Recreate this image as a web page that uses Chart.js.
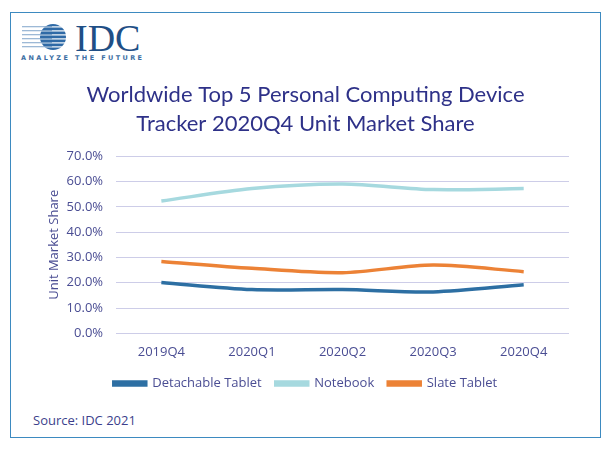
<!DOCTYPE html>
<html>
<head>
<meta charset="utf-8">
<script src="https://cdn.jsdelivr.net/npm/chart.js@4/dist/chart.umd.min.js"></script>
<style>
  html, body { margin: 0; padding: 0; background: #fff; }
  body { width: 613px; height: 451px; position: relative; overflow: hidden; font-family: "Open Sans", sans-serif; }
  #frame { position: absolute; left: 10px; top: 12px; width: 589px; height: 424px; border: 1.5px solid #3d8ac0; }
  #logo { position: absolute; left: 20px; top: 23px; }
  #logo .idc { position: absolute; left: 55px; top: -7px; font-family: "Liberation Serif", serif; font-size: 38px; color: #1f4f86; }
  #logo .tag { position: absolute; left: 1px; top: 31px; font-family: "DejaVu Sans", sans-serif; font-size: 6.5px; color: #3c6ea3; letter-spacing: 2.4px; white-space: nowrap; font-weight: bold; }
  #source { position: absolute; left: 33px; top: 411px; font-size: 13px; color: #3c3f8c; }
  #chart { position: absolute; left: 0; top: 0; }
</style>
</head>
<body>
<div id="frame"></div>
<div id="logo">
  <svg width="55" height="30" style="position:absolute;left:0;top:0">
    <defs><clipPath id="g"><circle cx="33" cy="14" r="13"/></clipPath></defs>
    <g fill="#9db9d6">
      <rect x="2" y="3" width="30" height="1.3"/>
      <rect x="2" y="7" width="30" height="1.3"/>
      <rect x="2" y="11" width="30" height="1.3"/>
      <rect x="2" y="15" width="30" height="1.3"/>
      <rect x="2" y="19" width="30" height="1.3"/>
      <rect x="2" y="23" width="30" height="1.3"/>
    </g>
    <g fill="#2f6aa6" clip-path="url(#g)">
      <rect x="18" y="0.5" width="32" height="2.8"/>
      <rect x="18" y="4.5" width="32" height="2.8"/>
      <rect x="18" y="8.5" width="32" height="2.8"/>
      <rect x="18" y="12.5" width="32" height="2.8"/>
      <rect x="18" y="16.5" width="32" height="2.8"/>
      <rect x="18" y="20.5" width="32" height="2.8"/>
      <rect x="18" y="24.5" width="32" height="2.8"/>
    </g>
  </svg>
  <span class="idc">IDC</span>
  <span class="tag">ANALYZE THE FUTURE</span>
</div>
<div id="source">Source: IDC 2021</div>
<canvas id="chart" width="613" height="451"></canvas>

<script>
// Chart data
const quarters = ['2019Q4', '2020Q1', '2020Q2', '2020Q3', '2020Q4'];
const detachableTablet = [20.1, 17.3, 17.3, 16.4, 19.2];
const notebook = [52.3, 57.2, 59.0, 56.8, 57.2];
const slateTablet = [28.4, 25.7, 24.0, 27.0, 24.4];
const yTicks = [0, 10, 20, 30, 40, 50, 60, 70];

const textColor = '#4a4d93';
const titleColor = '#2e3188';

// Build the chart once the page is loaded
document.addEventListener('DOMContentLoaded', function() {
    const ctx = document.getElementById('chart').getContext('2d');

    const chartData = {
        labels: quarters,
        datasets: [
            { label: 'Detachable Tablet', data: detachableTablet, borderColor: '#2d6fa3', backgroundColor: '#2d6fa3' },
            { label: 'Notebook', data: notebook, borderColor: '#a6d9df', backgroundColor: '#a6d9df' },
            { label: 'Slate Tablet', data: slateTablet, borderColor: '#ec8236', backgroundColor: '#ec8236' }
        ]
    };

    const config = {
        type: 'line',
        data: chartData,
        options: {
            responsive: false,
            animation: false,
            devicePixelRatio: 1,
            layout: { padding: { left: 42, right: 44, top: 81, bottom: 51 } },
            elements: {
                line: { borderWidth: 3.5, tension: 0.3, fill: false, borderCapStyle: 'butt' },
                point: { radius: 0, hoverRadius: 0 }
            },
            plugins: {
                title: {
                    display: true,
                    text: ['Worldwide Top 5 Personal Computing Device', 'Tracker 2020Q4 Unit Market Share'],
                    color: titleColor,
                    font: { family: 'Lato', size: 22, weight: 'normal', lineHeight: 1.3 },
                    padding: { top: 0, bottom: 18 }
                },
                legend: {
                    position: 'bottom',
                    labels: {
                        color: textColor,
                        font: { family: 'Open Sans', size: 13 },
                        boxWidth: 32,
                        boxHeight: 3,
                        padding: 14
                    }
                },
                tooltip: { enabled: false }
            },
            scales: {
                x: {
                    offset: true,
                    grid: { display: false },
                    border: { display: false },
                    ticks: { color: textColor, font: { family: 'Open Sans', size: 13 }, padding: 3 }
                },
                y: {
                    min: yTicks[0],
                    max: yTicks[yTicks.length - 1],
                    afterBuildTicks: function(axis) {
                        axis.ticks = yTicks.map(v => ({ value: v }));
                    },
                    grid: { color: '#cdcde8', lineWidth: 1, drawTicks: false },
                    border: { display: false },
                    ticks: {
                        color: textColor,
                        font: { family: 'Open Sans', size: 13 },
                        padding: 13,
                        callback: function(value) { return value.toFixed(1) + '%'; }
                    },
                    title: {
                        display: true,
                        text: 'Unit Market Share',
                        color: textColor,
                        font: { family: 'Open Sans', size: 13 },
                        padding: { top: 4, bottom: -8 }
                    }
                }
            }
        }
    };

    new Chart(ctx, config);
});
</script>
</body>
</html>
